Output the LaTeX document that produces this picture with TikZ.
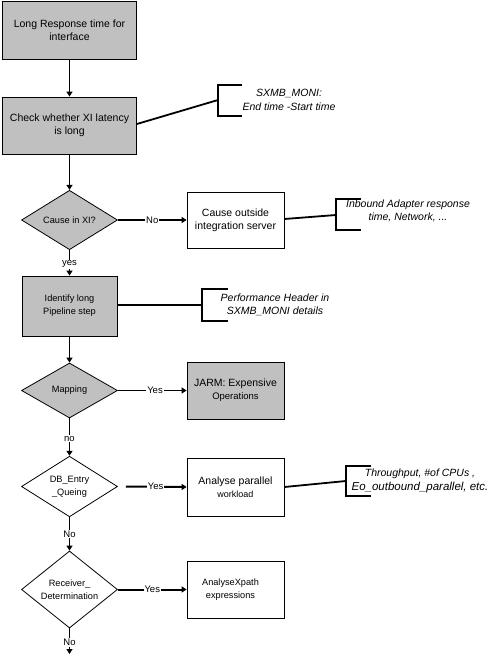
\documentclass[tikz,border=0pt]{standalone}
\usepackage{fontspec}
\setmainfont{Liberation Sans}
\usetikzlibrary{shapes.geometric,arrows.meta}
\definecolor{boxgray}{RGB}{192,192,192}
\tikzset{
  x=1pt, y=-1pt,
  box/.style={draw, line width=0.8pt, inner sep=0pt, align=center, minimum width=#1},
  box/.default=97pt,
  graybox/.style={box=#1, fill=boxgray},
  graybox/.default=97pt,
  dia/.style={diamond, draw, line width=0.8pt, inner sep=0pt, align=center, minimum width=96pt, minimum height=55pt},
  conn/.style={line width=1.9pt, -{Triangle[length=5pt,width=6pt]}},
  hconn/.style={line width=1.5pt, -{Triangle[length=5pt,width=6pt]}},
  lbl/.style={fill=white, inner sep=1pt, font=\fontsize{9.5}{11}\selectfont},
  note/.style={align=center, font=\fontsize{10.5}{13.5}\selectfont\itshape},
  brk/.style={line width=1.8pt},
  big/.style={font=\fontsize{10.5}{13}\selectfont},
  small/.style={font=\fontsize{9.2}{13}\selectfont},
}
\begin{document}
\begin{tikzpicture}
\useasboundingbox (0,0) rectangle (491,666);
% main column
\node[graybox=134pt, minimum height=58pt, big] (b1) at (69.5,30) {Long Response time for\\interface};
\node[graybox=134pt, minimum height=57pt, big] (b2) at (69.5,125.5) {Check whether XI latency\\is long};
\node[dia, fill=boxgray, small] (d1) at (69.5,220) {Cause in XI?};
\node[box, minimum height=56pt, big] (b3) at (235.5,220) {Cause outside\\integration server};
\node[graybox=95pt, minimum height=60pt, small] (b4) at (69.5,306) {Identify long\\Pipeline step};
\node[dia, fill=boxgray, small] (d2) at (69.5,390.5) {Mapping};
\node[graybox, minimum height=57pt, big] (b5) at (235.5,390.5) {JARM: Expensive\\{\fontsize{9.5}{11}\selectfont Operations}};
\node[dia, minimum height=59pt, small] (d3) at (69.5,486.5) {DB\_Entry\\\_Queing};
\node[box, minimum height=58pt, big] (b6) at (235.5,487) {Analyse parallel\\{\fontsize{9}{11}\selectfont workload}};
\node[dia, small] (d4) at (69.5,589.5) {Receiver\_\\Determination};
\node[box, minimum height=57pt, small] (b7) at (235.5,589.5) {\hspace*{-10pt}AnalyseXpath\\\hspace*{-10pt}expressions};
\coordinate (endp) at (69.5,654);

% connectors
\draw[conn] (b1) -- (b2);
\draw[conn] (b2) -- (d1);
\draw[hconn] (d1.east) -- node[lbl, pos=0.5] {No} (b3.west);
\draw[conn] (d1.south) -- node[lbl, pos=0.55] {yes} (b4.north);
\draw[conn] (b4) -- (d2);
\draw[hconn] (d2.east) -- node[lbl, pos=0.54] {Yes} (b5.west);
\draw[conn] (d2.south) -- node[lbl, pos=0.54] {no} (d3.north);
\draw[conn, line width=2pt] ([xshift=8pt]d3.east) -- node[lbl, pos=0.49] {Yes} (b6.west);
\draw[conn] (d3.south) -- node[lbl, pos=0.5] {No} (d4.north);
\draw[conn, line width=2pt] (d4.east) -- node[lbl, pos=0.5] {Yes} (b7.west);
\draw[conn] (d4.south) -- node[lbl, pos=0.54] {No} (endp);

% annotation brackets
\coordinate (k1a) at (242,85); \coordinate (k1b) at (218,85);
\coordinate (k1c) at (218,116); \coordinate (k1d) at (242,116);
\coordinate (k1m) at (218,100);
\draw[brk] (k1a) -- (k1b) -- (k1c) -- (k1d);
\draw[brk] ([yshift=1.5pt]b2.east) -- (k1m);
\node[note] (n1) at (289,100) {SXMB\_MONI:\\End time -Start time};

\coordinate (k2a) at (361,199); \coordinate (k2b) at (336,199);
\coordinate (k2c) at (336,230); \coordinate (k2d) at (361,230);
\coordinate (k2m) at (336,215);
\draw[brk] (k2a) -- (k2b) -- (k2c) -- (k2d);
\draw[brk] ([yshift=1pt]b3.east) -- (k2m);
\node[note] (n2) at (408,211) {Inbound Adapter response\\time, Network, ...};

\coordinate (k3a) at (228,289); \coordinate (k3b) at (202,289);
\coordinate (k3c) at (202,321); \coordinate (k3d) at (228,321);
\coordinate (k3m) at (202,305);
\draw[brk] (k3a) -- (k3b) -- (k3c) -- (k3d);
\draw[brk] ([yshift=1pt]b4.east) -- (k3m);
\node[note] (n3) at (275,305) {Performance Header in\\SXMB\_MONI details};

\coordinate (k4a) at (371,466); \coordinate (k4b) at (346,466);
\coordinate (k4c) at (346,496); \coordinate (k4d) at (371,496);
\coordinate (k4m) at (346,481);
\draw[brk] (k4a) -- (k4b) -- (k4c) -- (k4d);
\draw[brk] (b6.east) -- (k4m);
\node[note] (n4) at (420,481) {Throughput, \#of CPUs ,\\\fontsize{11.5}{13.5}\selectfont Eo\_outbound\_parallel, etc.};
\end{tikzpicture}
\end{document}
